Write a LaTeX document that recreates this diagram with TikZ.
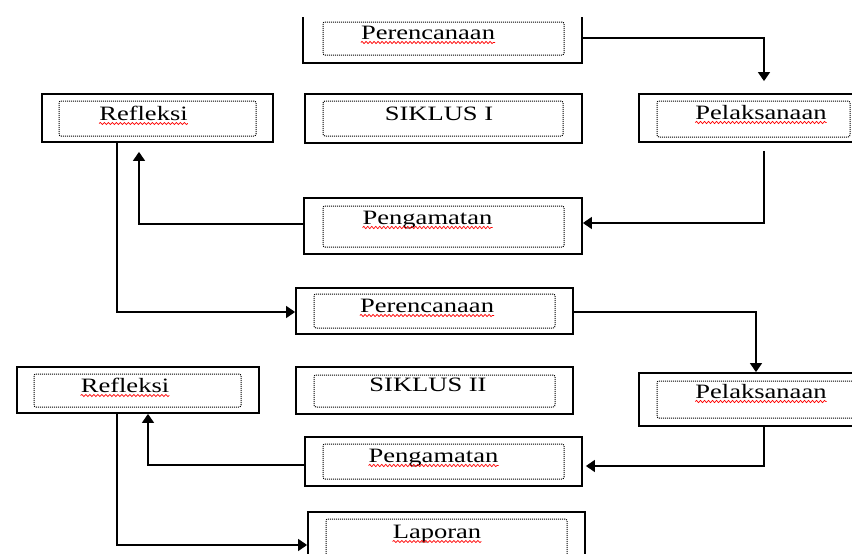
\documentclass[tikz,border=0pt]{standalone}
\usepackage{fontspec}
\setmainfont{Liberation Serif}[FakeStretch=1.3]
\usetikzlibrary{arrows.meta,positioning,decorations.pathmorphing}
\tikzset{
    kotak/.style={
        draw,
        line width=1.8pt,
        inner sep=0pt
    },
    dalam/.style={
        draw,
        line width=1pt,
        dash pattern=on 1pt off 1pt,
        rounded corners=2pt,
        inner sep=0pt
    },
    lbl/.style={
        inner sep=0pt,
        anchor=base,
        font=\fontsize{20.4}{24}\selectfont
    },
    arrow/.style={
        -{Triangle[length=9pt,width=12pt]},
        line width=1.4pt
    },
    typo/.style={
        draw=red,
        line width=0.7pt,
        decorate,
        decoration={snake, amplitude=1.1pt, segment length=4pt}
    }
}

\begin{document}
\begin{tikzpicture}[x=1pt, y=-1pt]

\path[use as bounding box, clip] (0,0) rectangle (852,554);

% siklus I
\node[kotak, draw=none, minimum width=277pt, minimum height=44pt] (ren1) at (442.5,40) {};
\draw[line width=1.8pt] (ren1.north west) -- (ren1.south west) -- (ren1.south east) -- (ren1.north east);
\node[dalam, minimum width=241pt, minimum height=33pt] (ren1in) at (443.5,38.5) {};
\node[lbl] (ren1t) at (428,39) {Perencanaan};

\node[kotak, minimum width=231pt, minimum height=48pt] (ref1) at (157.5,118) {};
\node[dalam, minimum width=197pt, minimum height=35pt] (ref1in) at (157.5,118.5) {};
\node[lbl] (ref1t) at (143.5,120) {Refleksi};

\node[kotak, minimum width=277pt, minimum height=49pt] (sik1) at (443.5,118.5) {};
\node[dalam, minimum width=240pt, minimum height=35pt] (sik1in) at (443,118.5) {};
\node[lbl] (sik1t) at (439,120) {SIKLUS I};

\node[kotak, minimum width=217pt, minimum height=48pt] (pel1) at (747.5,118) {};
\node[dalam, minimum width=193pt, minimum height=36pt] (pel1in) at (753.5,119) {};
\node[lbl] (pel1t) at (761,119) {Pelaksanaan};

\node[kotak, minimum width=278pt, minimum height=56pt] (pen1) at (443,226) {};
\node[dalam, minimum width=241pt, minimum height=41pt] (pen1in) at (443.5,226.5) {};
\node[lbl] (pen1t) at (427.5,224) {Pengamatan};

% siklus II
\node[kotak, minimum width=277pt, minimum height=46pt] (ren2) at (434.5,311) {};
\node[dalam, minimum width=241pt, minimum height=34pt] (ren2in) at (434.5,311) {};
\node[lbl] (ren2t) at (427,312) {Perencanaan};

\node[kotak, minimum width=242pt, minimum height=46pt] (ref2) at (138,390) {};
\node[dalam, minimum width=207pt, minimum height=33pt] (ref2in) at (137.5,390.5) {};
\node[lbl] (ref2t) at (125,392) {Refleksi};

\node[kotak, minimum width=277pt, minimum height=47pt] (sik2) at (434.5,390.5) {};
\node[dalam, minimum width=241pt, minimum height=32pt] (sik2in) at (434.5,391) {};
\node[lbl] (sik2t) at (428,391) {SIKLUS II};

\node[kotak, minimum width=217pt, minimum height=53pt] (pel2) at (747.5,399.5) {};
\node[dalam, minimum width=203pt, minimum height=37pt] (pel2in) at (758.5,399.5) {};
\node[lbl] (pel2t) at (761,398) {Pelaksanaan};

\node[kotak, minimum width=277pt, minimum height=49pt] (pen2) at (443.5,461.5) {};
\node[dalam, minimum width=241pt, minimum height=35pt] (pen2in) at (443.5,461.5) {};
\node[lbl] (pen2t) at (433.5,462) {Pengamatan};

\node[kotak, minimum width=277pt, minimum height=58pt] (lap) at (446.5,541) {};
\node[dalam, minimum width=241pt, minimum height=46pt] (lapin) at (446.5,542) {};
\node[lbl] (lapt) at (437,538) {Laporan};

% spelling marks
\foreach \t in {ren1t,ref1t,pel1t,pen1t,ren2t,ref2t,pel2t,pen2t,lapt}
    \draw[typo] ([yshift=-3.5pt]\t.base west) -- ([yshift=-3.5pt]\t.base east);

% alur
\draw[arrow, shorten >=12pt] ([yshift=2pt]ren1.east) -| ([xshift=16.5pt]pel1.north);
\draw[arrow] ([xshift=16.5pt,yshift=-8pt]pel1.south) |- ([yshift=3pt]pen1.east);
\draw[arrow, shorten >=9pt] ([yshift=2pt]pen1.west) -| ([xshift=-18.5pt]ref1.south);
\draw[arrow] ([xshift=-40.5pt]ref1.south) |- ([yshift=-1pt]ren2.west);
\draw[arrow] ([yshift=-1pt]ren2.east) -| ([xshift=8.5pt]pel2.north);
\draw[arrow, shorten >=3pt] ([xshift=16.5pt]pel2.south) |- ([yshift=-4.5pt]pen2.east);
\draw[arrow] ([yshift=-3.5pt]pen2.west) -| ([xshift=10pt]ref2.south);
\draw[arrow] ([xshift=-21pt]ref2.south) |- ([yshift=-4pt]lap.west);

\end{tikzpicture}
\end{document}
